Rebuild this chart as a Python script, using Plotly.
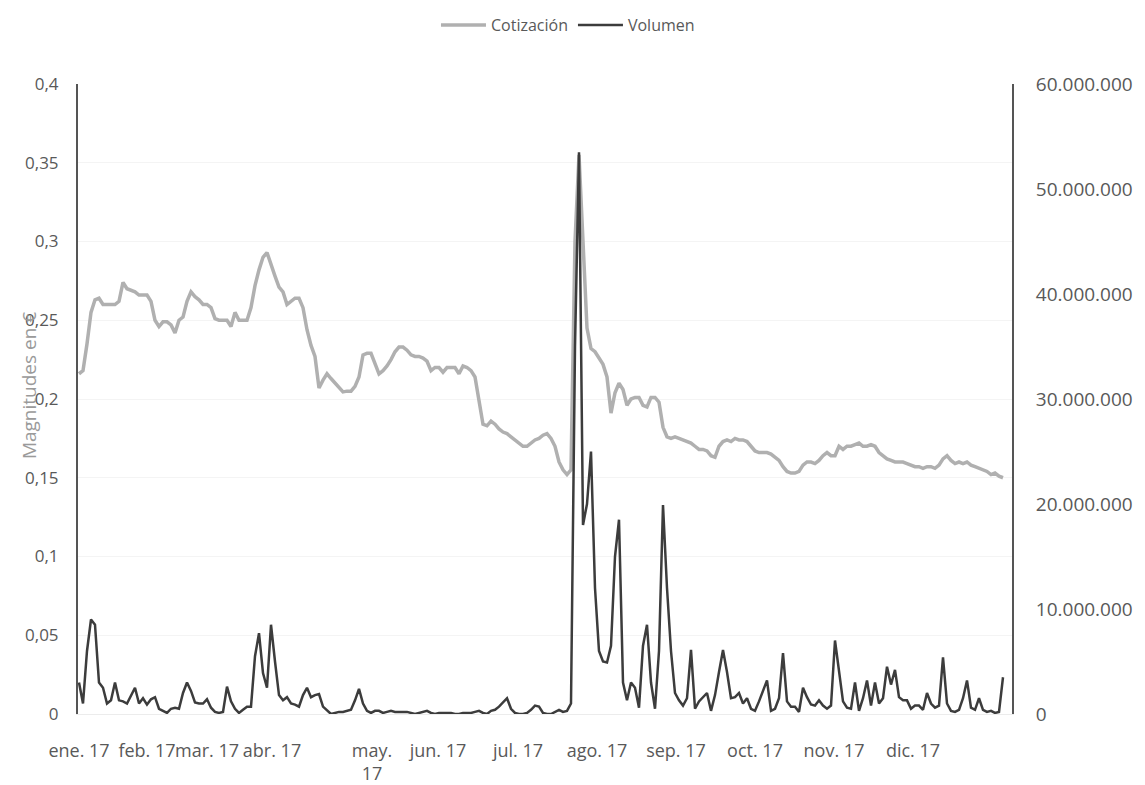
import plotly.graph_objects as go

# ---- data (daily samples across 2017) ----
cotizacion = [
    0.216, 0.218, 0.235, 0.255, 0.263, 0.264, 0.260, 0.260, 0.260, 0.260,
    0.262, 0.274, 0.270, 0.269, 0.268, 0.266, 0.266, 0.266, 0.262, 0.250,
    0.246, 0.249, 0.249, 0.247, 0.242, 0.250, 0.252, 0.262, 0.268, 0.265,
    0.263, 0.260, 0.260, 0.258, 0.251, 0.250, 0.250, 0.250, 0.246, 0.255,
    0.250, 0.250, 0.250, 0.258, 0.272, 0.282, 0.290, 0.293, 0.285, 0.278,
    0.271, 0.268, 0.260, 0.262, 0.264, 0.264, 0.258, 0.244, 0.234, 0.227,
    0.207, 0.212, 0.216, 0.213, 0.210, 0.207, 0.2045, 0.205, 0.205, 0.208,
    0.214, 0.228, 0.229, 0.229, 0.222, 0.216, 0.218, 0.221, 0.225, 0.230,
    0.233, 0.233, 0.231, 0.228, 0.227, 0.227, 0.226, 0.224, 0.218, 0.220,
    0.220, 0.217, 0.220, 0.220, 0.220, 0.216, 0.221, 0.220, 0.218, 0.214,
    0.198, 0.184, 0.183, 0.186, 0.184, 0.181, 0.179, 0.178, 0.176, 0.174,
    0.172, 0.170, 0.170, 0.172, 0.174, 0.175, 0.177, 0.178, 0.175, 0.170,
    0.160, 0.155, 0.152, 0.155, 0.300, 0.355, 0.300, 0.245, 0.232, 0.230,
    0.226, 0.222, 0.214, 0.191, 0.204, 0.210, 0.206, 0.196, 0.200, 0.201,
    0.201, 0.196, 0.195, 0.201, 0.201, 0.198, 0.182, 0.176, 0.175, 0.176,
    0.175, 0.174, 0.173, 0.172, 0.170, 0.168, 0.168, 0.167, 0.164, 0.163,
    0.170, 0.173, 0.174, 0.173, 0.175, 0.174, 0.174, 0.173, 0.170, 0.167,
    0.166, 0.166, 0.166, 0.165, 0.163, 0.161, 0.157, 0.154, 0.153, 0.153,
    0.154, 0.158, 0.160, 0.160, 0.159, 0.161, 0.164, 0.166, 0.164, 0.164,
    0.170, 0.168, 0.170, 0.170, 0.171, 0.172, 0.170, 0.170, 0.171, 0.170,
    0.166, 0.164, 0.162, 0.161, 0.160, 0.160, 0.160, 0.159, 0.158, 0.157,
    0.157, 0.156, 0.157, 0.157, 0.156, 0.158, 0.162, 0.164, 0.161, 0.159,
    0.160, 0.159, 0.160, 0.158, 0.157, 0.156, 0.155, 0.154, 0.152, 0.153,
    0.151, 0.150,
]

volumen_millones = [
    3.0, 1.0, 6.0, 9.0, 8.5, 3.0, 2.5, 1.0, 1.3, 3.0,
    1.3, 1.2, 1.0, 1.8, 2.5, 1.0, 1.5, 0.9, 1.4, 1.6,
    0.5, 0.3, 0.1, 0.5, 0.6, 0.5, 2.0, 3.0, 2.2, 1.1,
    1.0, 1.0, 1.4, 0.6, 0.2, 0.1, 0.2, 2.6, 1.2, 0.5,
    0.1, 0.4, 0.7, 0.7, 5.5, 7.7, 3.9, 2.5, 8.5, 5.0,
    1.8, 1.3, 1.6, 1.0, 0.9, 0.7, 1.8, 2.5, 1.6, 1.8,
    1.9, 0.7, 0.3, 0.0, 0.1, 0.2, 0.2, 0.3, 0.4, 1.3,
    2.4, 1.0, 0.3, 0.1, 0.3, 0.3, 0.1, 0.2, 0.3, 0.2,
    0.2, 0.2, 0.2, 0.1, 0.0, 0.1, 0.2, 0.3, 0.1, 0.0,
    0.1, 0.1, 0.1, 0.1, 0.0, 0.0, 0.1, 0.1, 0.1, 0.2,
    0.3, 0.1, 0.0, 0.3, 0.4, 0.7, 1.1, 1.5, 0.5, 0.1,
    0.0, 0.0, 0.1, 0.4, 0.8, 0.7, 0.1, 0.0, 0.0, 0.2,
    0.4, 0.2, 0.3, 1.0, 35.0, 53.5, 18.0, 20.0, 25.0, 12.0,
    6.0, 5.0, 4.9, 6.5, 15.0, 18.5, 3.0, 1.3, 3.0, 2.5,
    0.6, 6.5, 8.5, 3.0, 0.5, 6.0, 19.9, 12.0, 6.0, 2.0,
    1.3, 0.8, 1.5, 6.1, 0.5, 1.2, 1.6, 2.0, 0.3, 1.8,
    4.0, 6.1, 4.0, 1.5, 1.6, 2.0, 1.0, 1.5, 0.5, 0.3,
    1.2, 2.2, 3.2, 0.3, 0.5, 1.5, 5.8, 1.2, 0.7, 0.7,
    0.2, 2.5, 1.6, 0.9, 0.8, 1.3, 0.8, 0.5, 0.8, 7.0,
    4.0, 1.2, 0.6, 0.5, 3.0, 0.3, 1.5, 3.2, 0.8, 3.0,
    1.0, 1.5, 4.5, 2.8, 4.2, 1.6, 1.3, 1.3, 0.5, 0.8,
    0.8, 0.4, 2.0, 1.0, 0.6, 0.8, 5.4, 1.0, 0.3, 0.2,
    0.4, 1.5, 3.2, 0.6, 0.4, 1.5, 0.4, 0.2, 0.3, 0.1,
    0.2, 3.5,
]

month_labels = ["ene. 17", "feb. 17", "mar. 17", "abr. 17", "may.<br>17", "jun. 17",
                "jul. 17", "ago. 17", "sep. 17", "oct. 17", "nov. 17", "dic. 17"]
month_label_index = [0, 17, 32, 48.25, 73.25, 89.75, 109.75, 129.5, 149.25, 169, 188.75, 208.5]

dias_precio = list(range(len(cotizacion)))
dias_volumen = list(range(len(volumen_millones)))
volumen = [v * 1_000_000 for v in volumen_millones]

TXT = "#595959"
FONT = "Open Sans, Liberation Sans, sans-serif"

fig = go.Figure()
fig.add_trace(go.Scatter(
    x=dias_precio, y=cotizacion, name="Cotización", mode="lines",
    line=dict(color="#b0b0b0", width=3.5), yaxis="y"))
fig.add_trace(go.Scatter(
    x=dias_volumen, y=volumen, name="Volumen", mode="lines",
    line=dict(color="#3c3c3c", width=2.5), yaxis="y2"))

fig.update_layout(
    width=1137, height=777,
    margin=dict(l=70, r=133, t=76, b=71, autoexpand=False),
    paper_bgcolor="white", plot_bgcolor="white",
    separators=",.",
    font=dict(family=FONT, color=TXT, size=16),
    showlegend=True,
    legend=dict(orientation="h", xref="container", yref="container",
                x=0.4925, y=0.978, xanchor="center", yanchor="middle",
                font=dict(size=16, color=TXT), itemwidth=45,
                bgcolor="rgba(0,0,0,0)"),
    xaxis=dict(range=[-0.25, 233.25], tickmode="array", automargin=False,
               tickvals=month_label_index, ticktext=month_labels, tickangle=0,
               showgrid=False, zeroline=False, showline=True,
               linecolor="#ececec", linewidth=1,
               ticks="outside", ticklen=20, tickcolor="rgba(0,0,0,0)",
               tickfont=dict(size=18, color=TXT, family=FONT)),
    yaxis=dict(range=[0, 0.4], dtick=0.05, tick0=0, automargin=False,
               showgrid=True, gridcolor="#f4f4f4", gridwidth=1,
               zeroline=False, showline=True, linecolor="#555555", linewidth=2,
               ticks="outside", ticklen=14, tickcolor="rgba(0,0,0,0)",
               tickfont=dict(size=17, color=TXT, family=FONT)),
    yaxis2=dict(range=[0, 60_000_000], dtick=10_000_000, tick0=0, automargin=False,
                overlaying="y", side="right", tickformat=",d",
                showgrid=False, zeroline=False, showline=True,
                linecolor="#555555", linewidth=2,
                ticks="outside", ticklen=18, tickcolor="rgba(0,0,0,0)",
                tickfont=dict(size=19, color=TXT, family=FONT)),
)

fig.add_annotation(
    text="Magnitudes en €", textangle=-90,
    xref="paper", yref="paper", x=-0.0525, y=0.522,
    xanchor="center", yanchor="middle", showarrow=False,
    font=dict(size=19, color="#9a9a9a", family=FONT))

fig.write_html("out.html")
